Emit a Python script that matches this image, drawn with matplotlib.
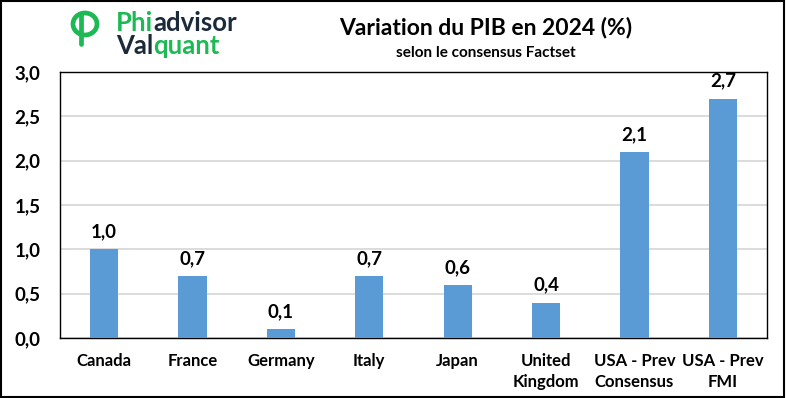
import matplotlib
matplotlib.use("Agg")
import matplotlib.pyplot as plt
from matplotlib.patches import Rectangle, Arc
from matplotlib.lines import Line2D

countries = ["Canada", "France", "Germany", "Italy", "Japan",
             "United\nKingdom", "USA - Prev\nConsensus", "USA - Prev\nFMI"]
gdp_growth = [1.0, 0.7, 0.1, 0.7, 0.6, 0.4, 2.1, 2.7]
y_ticks = [0.0, 0.5, 1.0, 1.5, 2.0, 2.5, 3.0]

bar_color = "#5B9BD5"
green = "#1DB954"
navy = "#1B2A3A"
font = "Lato"

fig = plt.figure(figsize=(7.86, 3.98), dpi=100)
ax = fig.add_axes([60 / 786, 1 - 338 / 398, (767 - 60) / 786, (338 - 72) / 398])

x = range(len(countries))
bars = ax.bar(x, gdp_growth, width=0.32, color=bar_color, zorder=3)
for bar, v in zip(bars, gdp_growth):
    ax.text(bar.get_x() + bar.get_width() / 2, v + 0.1, f"{v:.1f}".replace(".", ","),
            ha="center", va="bottom", fontsize=13.5, fontweight="bold", family=font)

ax.set_xlim(-0.5, len(countries) - 0.5)
ax.set_ylim(0, 3.0)
ax.set_yticks(y_ticks)
ax.set_yticklabels([f"{t:.1f}".replace(".", ",") for t in y_ticks],
                   fontsize=13.5, fontweight="bold", family=font)
ax.set_xticks(list(x))
ax.set_xticklabels(countries, fontsize=12, fontweight="bold", family=font,
                   linespacing=1.35, va="top")
ax.tick_params(axis="both", length=0)
ax.tick_params(axis="x", pad=11)
ax.tick_params(axis="y", pad=14)
ax.grid(axis="y", color="#D9D9D9", linewidth=1.3, zorder=0)
for s in ax.spines.values():
    s.set_color("black")
    s.set_linewidth(1)

# titles
fig.text(486 / 786, 1 - 27 / 398, "Variation du PIB en 2024 (%)", ha="center", va="center",
         fontsize=16.5, fontweight="bold", family=font)
fig.text(486 / 786, 1 - 53 / 398, "selon le consensus Factset", ha="center", va="center",
         fontsize=11, fontweight="bold", family=font)

# logo text, pieces placed one after another
renderer = fig.canvas.get_renderer()


def logo_line(x0, y0, parts):
    xpos = x0
    for txt, col in parts:
        t = fig.text(xpos / 786, 1 - y0 / 398, txt, color=col, fontsize=18.5,
                     fontweight="bold", family=font, va="center", ha="left")
        xpos += t.get_window_extent(renderer).width


logo_line(116, 23, [("Phi", green), ("advisor", navy)])
logo_line(116, 46, [("Val", navy), ("quant", green)])

lax = fig.add_axes([66 / 786, 1 - 48 / 398, 40 / 786, 38 / 398])
lax.set_xlim(0, 40)
lax.set_ylim(48, 10)
lax.set_aspect("equal")
lax.axis("off")
lax.add_patch(Arc((19, 24), 24, 22, theta1=0, theta2=360, color=green, lw=3.4))
lax.add_line(Line2D([15, 15], [14, 44], color=green, lw=3.4, solid_capstyle="round"))

# outer border
fig.add_artist(Rectangle((0.001, 0.002), 0.997, 0.995, transform=fig.transFigure,
                         fill=False, edgecolor="black", linewidth=1.5))

fig.savefig("out.png", dpi=100)
